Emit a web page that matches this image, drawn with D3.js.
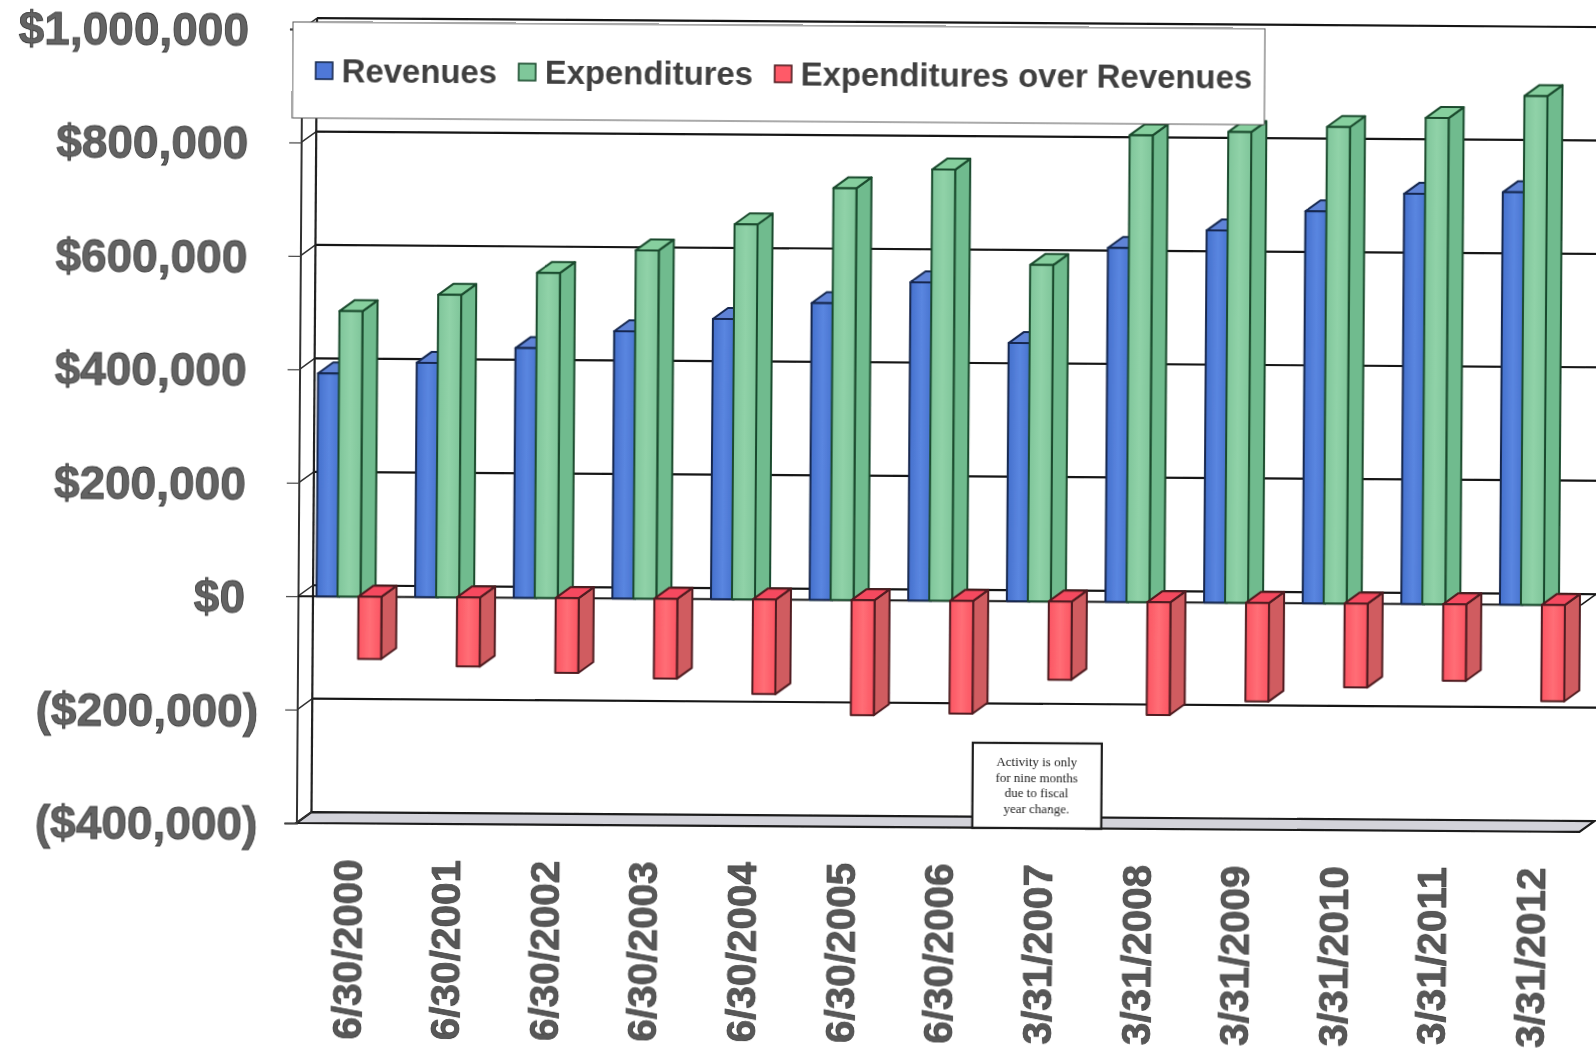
<!DOCTYPE html>
<html><head><meta charset="utf-8">
<script src="https://cdn.jsdelivr.net/npm/d3@7/dist/d3.min.js"></script>
<style>html,body{margin:0;padding:0;background:#fff;overflow:hidden}svg{display:block}text{font-family:"Liberation Sans",Arial,sans-serif}</style>
</head><body><svg id="c" width="1596" height="1053"></svg>
<script>
const categories=["6/30/2000","6/30/2001","6/30/2002","6/30/2003","6/30/2004","6/30/2005","6/30/2006","3/31/2007","3/31/2008","3/31/2009","3/31/2010","3/31/2011","3/31/2012"];
const revenues=[393000,413000,440000,471000,494000,523000,561000,455000,624000,656000,691000,723000,727000];
const expenditures=[503000,533000,573000,614000,661000,726000,760000,593000,823000,830000,840000,857000,897000];
const overRevenues=[-110000,-122000,-132000,-141000,-167000,-203000,-199000,-138000,-199000,-174000,-148000,-135000,-170000];
const seriesNames=["Revenues","Expenditures","Expenditures over Revenues"];
const tickValues=[-400000,-200000,0,200000,400000,600000,800000,1000000];
const noteLines=["Activity is only","for nine months","due to fiscal","year change."];

const seriesValues=[revenues,expenditures,overRevenues];
const look=[
 {front:"url(#gb)",side:"#4468b8",top:"#5f83d6",stroke:"#16284f",sw:"#4f78d8"},
 {front:"url(#gg)",side:"#70bb8e",top:"#86cf9e",stroke:"#1a4a2d",sw:"#7fc79a"},
 {front:"url(#gr)",side:"#d05c60",top:"#f54a5e",stroke:"#4f1c20",sw:"#ff5a68"}];

const svg=d3.select("#c");
const defs=svg.append("defs");
[["gb","#4570cc","#5a86e0"],["gg","#7fc59a","#90d2a8"],["gr","#fb5462","#ff6e76"]].forEach(([id,a,b])=>{
  const g=defs.append("linearGradient").attr("id",id);
  g.append("stop").attr("offset","0").attr("stop-color",a);
  g.append("stop").attr("offset","0.5").attr("stop-color",b);
  g.append("stop").attr("offset","1").attr("stop-color",a);
});
defs.append("filter").attr("id","soft").attr("x","-2%").attr("y","-2%").attr("width","104%").attr("height","104%")
 .append("feGaussianBlur").attr("stdDeviation",0.55);

const root=svg.append("g").attr("filter","url(#soft)").append("g").attr("transform","rotate(0.4 298 596)");
const y=d3.scaleLinear().domain([-400000,1000000]).range([823,29]);
const wallX=298, depthX=15, depthY=-11, groupStep=98.62, groupX=316.5, stepS=21, barW=23;
const x=d3.scaleBand().domain(categories).range([groupX,groupX+groupStep*categories.length]);
const xs=d3.scaleBand().domain(seriesNames).range([0,stepS*3]);
const rightEnd=1581;

// floor
root.append("polygon").attr("fill","#d3d3da").attr("stroke","#1a1a1a").attr("stroke-width",2.2)
 .attr("points",[[wallX,y(-400000)],[rightEnd,y(-400000)],[rightEnd+depthX,y(-400000)+depthY],[wallX+depthX,y(-400000)+depthY]].join(" "));

// back wall gridlines and side wall
root.append("g").selectAll("line").data(tickValues.slice(1)).join("line")
 .attr("x1",wallX+depthX).attr("x2",1640).attr("y1",d=>y(d)+depthY).attr("y2",d=>y(d)+depthY)
 .attr("stroke","#151515").attr("stroke-width",2.2);
root.append("g").selectAll("line").data(tickValues).join("line")
 .attr("x1",wallX).attr("x2",wallX+depthX).attr("y1",d=>y(d)).attr("y2",d=>y(d)+depthY)
 .attr("stroke","#333").attr("stroke-width",1.5);
root.append("line").attr("x1",wallX+depthX).attr("x2",wallX+depthX).attr("y1",y(1000000)+depthY).attr("y2",y(-400000)+depthY).attr("stroke","#222").attr("stroke-width",2.2);

// axes
const fmt=d=>d<0?"($"+d3.format(",")(-d)+")":"$"+d3.format(",")(d);
const ay=root.append("g").attr("transform",`translate(${wallX},0)`)
 .call(d3.axisLeft(y).tickValues(tickValues).tickFormat(fmt).tickSize(12).tickPadding(41));
ay.select(".domain").attr("stroke","#333").attr("stroke-width",2);
ay.selectAll(".tick line").attr("stroke","#444").attr("stroke-width",1.2);
ay.selectAll(".tick text").attr("font-size",46).attr("font-weight",700).attr("fill","#636363").attr("stroke","#383838").attr("stroke-width",0.8)
 .attr("font-family","'Liberation Sans',Arial,sans-serif")
 .attr("dx",d=>d<0?14:0).attr("dy","0.36em");
const ax=root.append("g").attr("transform",`translate(${-x.bandwidth()/2+32.5},859)`)
 .call(d3.axisBottom(x).tickSize(0).tickPadding(0));
ax.select(".domain").remove();
ax.selectAll(".tick text").attr("font-size",40.5).attr("font-weight",700).attr("fill","#585858").attr("stroke","#3a3a3a").attr("stroke-width",0.7)
 .attr("font-family","'Liberation Sans',Arial,sans-serif")
 .attr("text-anchor","end").attr("transform","rotate(-90)").attr("x",0).attr("y",0).attr("dy","0.36em");

// zero line at the front
root.append("line").attr("x1",wallX).attr("x2",rightEnd).attr("y1",y(0)).attr("y2",y(0)).attr("stroke","#151515").attr("stroke-width",2);
root.append("line").attr("x1",rightEnd).attr("x2",rightEnd+depthX).attr("y1",y(0)).attr("y2",y(0)+depthY).attr("stroke","#151515").attr("stroke-width",1.5);

// bars
const bars=root.append("g");
categories.forEach((cat,i)=>{
  seriesNames.forEach((name,s)=>{
    const v=seriesValues[s][i], L=look[s];
    const x0=x(cat)+xs(name), x1=x0+barW, y0=y(0), yv=y(v);
    const g=bars.append("g").attr("stroke",L.stroke).attr("stroke-width",2).attr("stroke-linejoin","round");
    const top=v>=0?yv:y0;
    g.append("polygon").attr("fill",L.side).attr("points",[[x1,y0],[x1+depthX,y0+depthY],[x1+depthX,yv+depthY],[x1,yv]].join(" "));
    g.append("polygon").attr("fill",L.top).attr("points",[[x0,top],[x0+depthX,top+depthY],[x1+depthX,top+depthY],[x1,top]].join(" "));
    g.append("rect").attr("x",x0).attr("width",barW).attr("y",Math.min(y0,yv)).attr("height",Math.abs(yv-y0)).attr("fill",L.front);
  });
});

// note
const noteX=x("3/31/2007")+31;
const nb=root.append("g");
nb.append("rect").attr("x",noteX-64).attr("width",129).attr("y",738).attr("height",y(-400000)-738).attr("fill","#fff").attr("stroke","#1a1a1a").attr("stroke-width",2.2);
nb.selectAll("text").data(noteLines).join("text").attr("x",noteX).attr("y",(d,i)=>761+i*15.7).attr("text-anchor","middle")
 .attr("font-size",13).attr("fill","#222").style("font-family","'Liberation Serif',serif").text(d=>d);

// legend
const lg=root.append("g");
lg.append("rect").attr("x",289).attr("y",22).attr("width",972).attr("height",96).attr("fill","#fff").attr("stroke","#555").attr("stroke-width",1);
const lgSw=d3.scaleOrdinal().domain(seriesNames).range([312,515,771]);
seriesNames.forEach((n,s)=>{
  lg.append("rect").attr("x",lgSw(n)).attr("y",62).attr("width",17).attr("height",17).attr("fill",look[s].sw).attr("stroke",look[s].stroke).attr("stroke-width",1.6);
  lg.append("text").attr("x",lgSw(n)+26).attr("y",82).attr("font-size",32.9).attr("font-weight",700).attr("fill","#3f3f3f").text(n);
});
</script></body></html>
